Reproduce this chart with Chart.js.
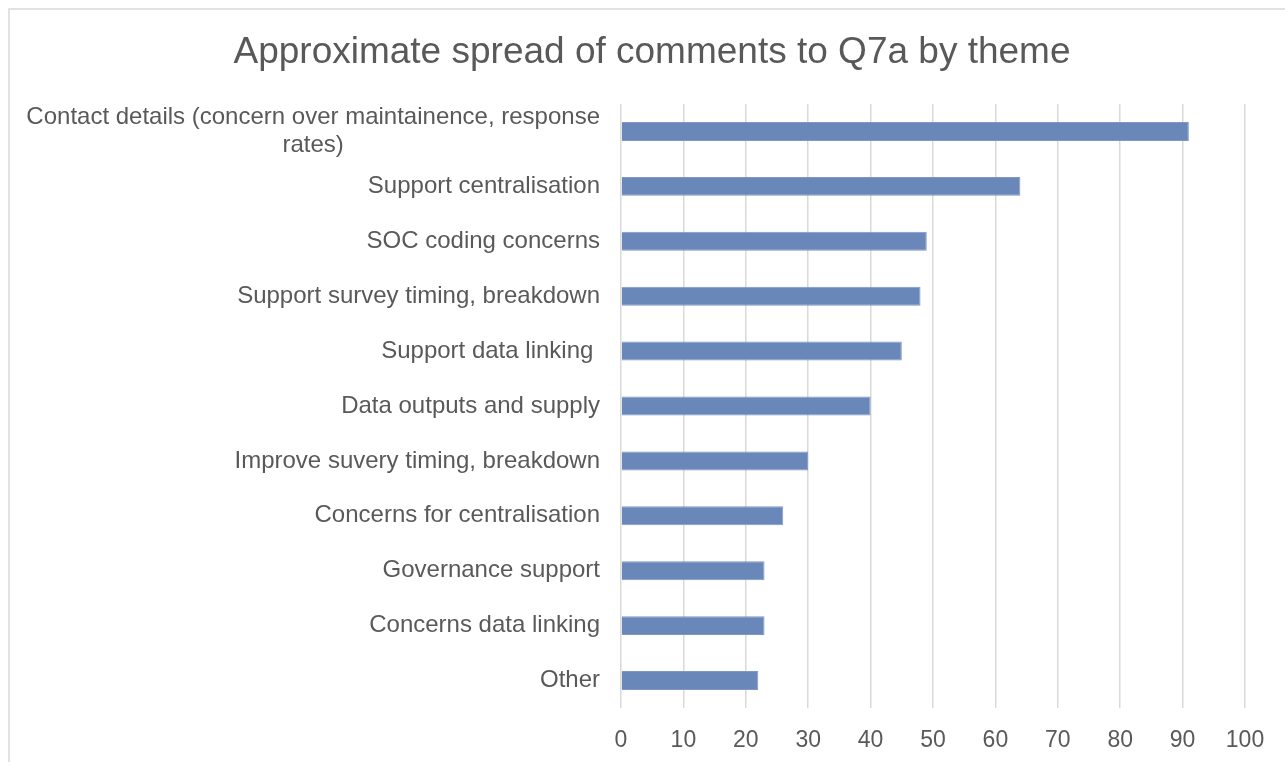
<!DOCTYPE html>
<html>
<head>
<meta charset="utf-8">
<script src="https://cdn.jsdelivr.net/npm/chart.js@4/dist/chart.umd.min.js"></script>
<style>
  html, body { margin: 0; padding: 0; background: #fff; }
  #wrap { width: 1285px; height: 762px; }
</style>
</head>
<body>
<div id="wrap"><canvas id="grafTemas"></canvas></div>
<script>
// temas e contagens (de cima para baixo)
const temas = [
    ['Contact details (concern over maintainence, response', 'rates)'],
    'Support centralisation',
    'SOC coding concerns',
    'Support survey timing, breakdown',
    'Support data linking ',
    'Data outputs and supply',
    'Improve suvery timing, breakdown',
    'Concerns for centralisation',
    'Governance support',
    'Concerns data linking',
    'Other'
];
const contagens = [91, 64, 49, 48, 45, 40, 30, 26, 23, 23, 22];
const ticksX = [0, 10, 20, 30, 40, 50, 60, 70, 80, 90, 100];

const titulo = 'Approximate spread of comments to Q7a by theme';
const corTexto = '#595959';
const fonte = "'Liberation Sans', Arial, sans-serif";

// moldura cinza do gráfico
const moldura = {
    id: 'moldura',
    beforeDraw(chart) {
        const ctx = chart.ctx;
        ctx.save();
        ctx.strokeStyle = '#d9d9d9';
        ctx.lineWidth = 1.5;
        ctx.strokeRect(9, 9, 1400, 1000);
        ctx.restore();
    }
};

// rótulos das categorias: bloco alinhado à direita, linhas centralizadas no bloco
const rotulos = {
    id: 'rotulos',
    afterDraw(chart) {
        const ctx = chart.ctx;
        const eixoY = chart.scales.y;
        const direita = chart.chartArea.left - 21;
        const alturaLinha = 28;
        ctx.save();
        ctx.font = '24px ' + fonte;
        ctx.fillStyle = corTexto;
        ctx.textAlign = 'center';
        ctx.textBaseline = 'middle';
        temas.forEach((t, i) => {
            const linhas = Array.isArray(t) ? t : [t];
            const largura = Math.max(...linhas.map(l => ctx.measureText(l).width));
            const cx = direita - largura / 2;
            const y0 = eixoY.getPixelForTick(i) - (linhas.length - 1) * alturaLinha / 2;
            linhas.forEach((l, j) => ctx.fillText(l, cx, y0 + j * alturaLinha));
        });
        ctx.restore();
    }
};

new Chart(document.getElementById('grafTemas'), {
    type: 'bar',
    data: {
        labels: temas,
        datasets: [{
            data: contagens,
            backgroundColor: '#6a87b9',
            borderColor: '#7e97c4',
            borderWidth: 1,
            barPercentage: 0.345,
            categoryPercentage: 1
        }]
    },
    options: {
        indexAxis: 'y',
        responsive: true,
        maintainAspectRatio: false,
        animation: false,
        layout: { padding: { left: 59, right: 40, top: 0, bottom: 0 } },
        plugins: {
            legend: { display: false },
            tooltip: { enabled: false },
            title: {
                display: true,
                text: titulo,
                color: corTexto,
                font: { family: fonte, size: 37, weight: 'normal' },
                padding: { top: 31, bottom: 28.6 }
            }
        },
        scales: {
            x: {
                min: 0,
                max: 100,
                afterBuildTicks(scale) {
                    scale.ticks = ticksX.map(v => ({ value: v }));
                },
                afterFit(scale) { scale.height = 54; },
                grid: { color: '#d9d9d9', lineWidth: 1.5, drawTicks: false },
                border: { display: false },
                ticks: {
                    color: corTexto,
                    font: { family: fonte, size: 23 },
                    padding: 19
                }
            },
            y: {
                afterFit(scale) { scale.width = 562; },
                grid: { display: false },
                border: { display: false },
                ticks: { display: false }
            }
        }
    },
    plugins: [moldura, rotulos]
});
</script>
</body>
</html>
